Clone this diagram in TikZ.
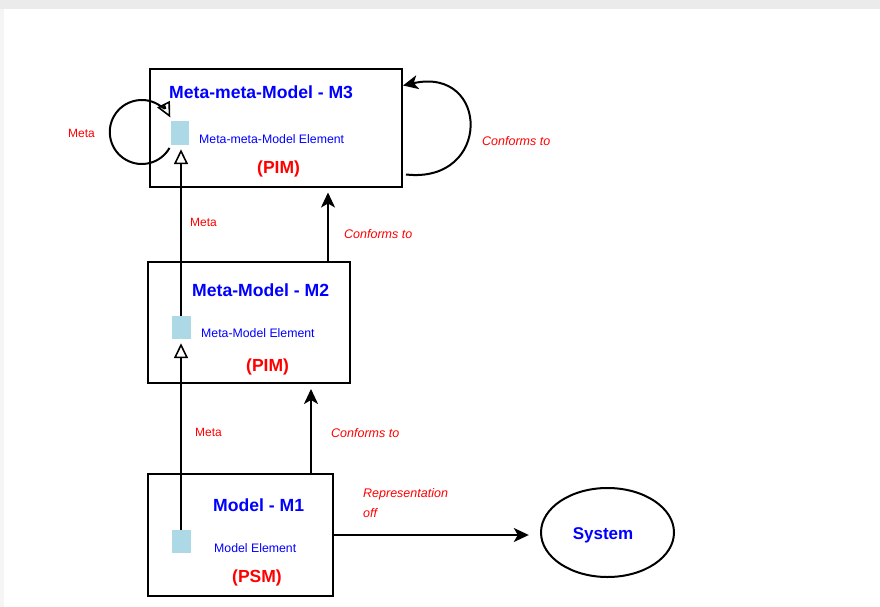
\documentclass[tikz,border=0pt]{standalone}
\usepackage{fontspec}
\setmainfont{Liberation Sans}
\usetikzlibrary{arrows.meta,calc}
\definecolor{elemfill}{HTML}{ADD8E6}
\definecolor{pageframe}{HTML}{EBEBEB}
\begin{document}
\begin{tikzpicture}[x=1pt,y=-1pt,
  layerbox/.style={draw=black, line width=2pt, inner sep=0pt, fill=white},
  elembox/.style={fill=elemfill, inner sep=0pt, minimum width=19pt, minimum height=23pt},
  title/.style={font=\fontsize{17.6}{20}\selectfont\bfseries, text=blue, inner sep=0pt, anchor=base west},
  elemtext/.style={font=\fontsize{12.3}{15}\selectfont, text=blue, inner sep=0pt, anchor=base west},
  kind/.style={font=\fontsize{17.5}{20}\selectfont\bfseries, text=red, inner sep=0pt, anchor=base west},
  metalbl/.style={font=\fontsize{12}{14}\selectfont, text=red, inner sep=0pt, anchor=base west},
  conflbl/.style={font=\fontsize{12.5}{14}\selectfont\itshape, text=red, inner sep=0pt, anchor=base west},
  opentip/.style={-{Triangle[open, length=15pt, width=14pt, line width=1.6pt]}},
  metaarrow/.style={draw=black, line width=1.6pt, opentip},
  confarrow/.style={draw=black, line width=2pt, -{Stealth[length=15pt, width=14pt, inset=4pt]}}
]
% page frame
\useasboundingbox (0,0) rectangle (880,607);
\fill[pageframe] (0,0) rectangle (880,607);
\fill[pageframe!50] (0,9) rectangle (4,607);
\fill[white] (4,9) rectangle (880,607);

% layer boxes
\node[layerbox, minimum width=252pt, minimum height=117pt] (m3) at (276,128) {};
\node[layerbox, minimum width=202pt, minimum height=121pt] (m2) at (249,322.5) {};
\node[layerbox, minimum width=185pt, minimum height=122pt] (m1) at (240.5,535) {};
\draw[line width=2pt] (607.5,532.5) ellipse [x radius=66.5, y radius=44.5];
\node[inner sep=0pt, minimum width=133pt, minimum height=89pt] (sys) at (607.5,532.5) {};

% model elements
\node[elembox, minimum width=18pt, minimum height=24pt] (sq3) at (180,133) {};
\node[elembox] (sq2) at (181,327.5) {};
\node[elembox] (sq1) at (181,541.5) {};

% texts inside boxes
\node[title] (t3) at (169,99) {Meta-meta-Model - M3};
\node[elemtext] (e3) at (199,143) {Meta-meta-Model Element};
\node[kind] (k3) at (257,173) {(PIM)};
\node[title] (t2) at (192,296) {Meta-Model - M2};
\node[elemtext] (e2) at (201,337) {Meta-Model Element};
\node[kind] (k2) at (246,371) {(PIM)};
\node[title] (t1) at (213,511) {Model - M1};
\node[elemtext] (e1) at (214,552) {Model Element};
\node[kind] (k1) at (232,582) {(PSM)};
\node[font=\fontsize{17}{20}\selectfont\bfseries, text=blue, inner sep=0pt, anchor=base] (st) at (603,539) {System};

% labels
\node[metalbl] (l3) at (68,137) {Meta};
\node[conflbl] (c3) at (482,145) {Conforms to};
\node[metalbl] (l23) at (190,226) {Meta};
\node[conflbl] (c23) at (344,238) {Conforms to};
\node[metalbl] (l12) at (195,436) {Meta};
\node[conflbl] (c12) at (331,437) {Conforms to};
\node[conflbl] (r1) at (363,497) {Representation};
\node[conflbl] (r2) at (363,517) {off};

% meta links between elements
\draw[metaarrow, shorten >=4pt] (sq2.north) -- (sq2.north |- sq3.south);
\draw[metaarrow, shorten >=4pt] (sq1.north) -- (sq1.north |- sq2.south);

% conformance links between layers
\coordinate (x23) at (328,0);
\coordinate (x12) at (311,0);
\draw[confarrow, shorten >=5pt] (m2.north -| x23) -- (m3.south -| x23);
\draw[confarrow, shorten >=5pt] (m1.north -| x12) -- (m2.south -| x12);

% representation link
\draw[confarrow, shorten >=12pt] (m1.east) -- (m1.east -| sys.west);

% self loops on the meta-meta-model
\coordinate (ls) at ($(sq3.west)+(-1.3,15)$);
\draw[line width=2pt, opentip] (ls) arc[start angle=30, end angle=333, radius=32];
\coordinate (rs) at ($(m3.south east)+(3,-13)$);
\coordinate (re) at ($(m3.north east)+(0,17)$);
\draw[confarrow] (rs) .. controls (492,184) and (490,66) .. (re);
\end{tikzpicture}
\end{document}
